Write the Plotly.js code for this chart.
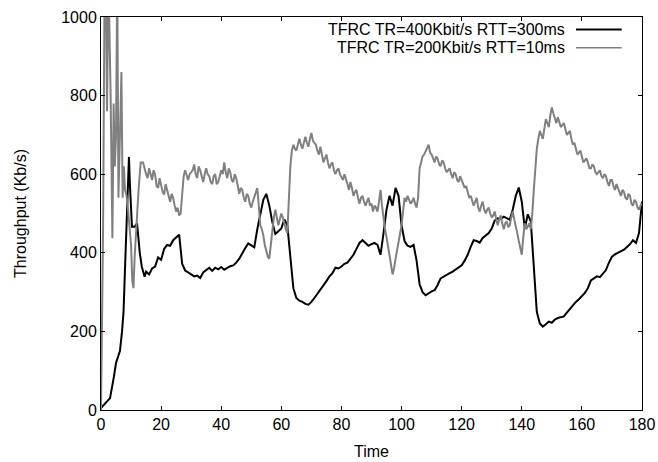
<!DOCTYPE html>
<html>
<head>
<meta charset="utf-8">
<script src="https://cdn.plot.ly/plotly-3.0.1.min.js"></script>
<style>html,body{margin:0;padding:0;background:#fff;}#chart{width:658px;height:462px;}</style>
</head>
<body>
<div id="chart"></div>
<script>
// Series names
const nameBlack = "TFRC TR=400Kbit/s RTT=300ms";
const nameGray = "TFRC TR=200Kbit/s RTT=10ms";

// Black series: start-up phase (irregular times)
const blackStartT = [0,1,2,3,3.7,4.3,5,5.7,6.3,7,7.5,7.9,8.4,8.9,9.3,9.6,9.9,10.3,11.2,12,12.9,13.6,14.5];
const blackStartV = [5,15,22,30,55,85,120,140,150,200,250,340,466,593,644,577,509,466,466,475,400,364,339];
// Black series: t = 15..180 (1 s steps)
const blackV = [352,345,360,365,388,382,410,420,418,432,438,446,372,355,350,346,340,342,336,350,
356,362,354,362,358,364,357,362,366,368,375,385,400,412,424,420,414,460,500,535,
550,520,478,448,455,462,485,470,390,310,285,278,275,270,268,275,285,295,305,318,
328,340,348,362,360,365,372,375,385,395,410,425,432,426,418,422,425,420,395,450,
510,545,520,565,545,470,430,418,415,420,380,320,300,292,298,302,305,318,335,340,
345,348,352,358,362,368,380,395,415,432,430,426,438,445,450,462,482,488,486,492,
488,484,510,545,566,530,462,498,480,350,250,220,212,218,225,222,230,234,236,238,
248,258,265,275,282,290,298,310,330,335,340,338,348,356,375,390,396,400,404,408,
415,422,432,425,450,530];

// Gray series: start-up phase (irregular times)
const grayStartT = [0,0.3,0.7,1.2,1.6,2.0,2.5,3.2,3.8,4.2,4.6,5.0,5.4,5.8,6.3,6.8,7.2,7.6,8.0,8.5,9.0,9.5,10.0,10.4,10.8,11.2,11.8,12.5,13.2,14.0];
const grayStartV = [0,200,470,1100,1100,760,1100,800,437,780,620,700,1100,540,700,860,540,620,560,545,510,470,420,330,310,390,480,560,630,630];
// Gray series: t = 15..180 (1 s steps)
const grayV = [600,615,585,600,565,575,548,560,530,540,505,495,560,610,585,605,625,590,610,580,
615,595,575,600,580,610,630,590,605,580,590,550,560,530,545,515,540,565,470,445,
400,385,460,510,470,500,470,450,620,675,660,690,665,695,670,705,680,660,670,630,
650,615,630,600,615,590,600,575,580,545,560,525,545,520,540,525,520,505,560,485,
440,400,345,385,420,470,540,545,525,540,515,615,645,660,675,650,630,640,620,630,
605,615,590,600,580,585,565,555,545,520,540,505,530,500,515,490,505,470,495,460,
480,470,505,470,430,395,475,470,460,560,665,710,690,740,720,770,740,745,720,730,
700,710,675,665,655,645,635,630,615,620,600,610,590,595,570,585,560,565,545,555,
535,545,520,530,510,525];
// Gray series: t = 15.5..179.5 (half-second readings between the above)
const grayHalfV = [590,595,610,570,590,555,575,540,550,520,
515,500,595,595,600,610,600,620,590,600,
600,580,595,575,595,600,605,615,585,600,
570,565,540,550,525,530,555,520,460,420,
390,420,490,485,485,490,460,540,660,665,
675,675,680,680,690,685,675,650,645,640,
630,625,610,610,600,585,590,560,565,555,
540,540,530,530,520,505,515,530,520,460,
420,370,360,405,445,505,530,535,530,525,
540,630,650,670,655,640,645,625,635,615,
610,600,605,585,595,570,570,540,535,530,
515,520,510,510,500,495,485,485,475,475,
465,490,485,450,410,440,460,475,500,620,
690,700,715,730,750,755,730,735,725,715,
705,690,680,650,660,630,640,615,625,605,
605,595,600,580,585,570,575,550,560,540,
550,525,535,515,520];

const mainStart = 15;

const tBlack = blackStartT.concat(blackV.map((v, i) => mainStart + i));
const yBlack = blackStartV.concat(blackV);

const tGray = grayStartT.slice();
const yGray = grayStartV.slice();
grayV.forEach((v, i) => {
  tGray.push(mainStart + i); yGray.push(v);
  if (i < grayHalfV.length) { tGray.push(mainStart + i + 0.5); yGray.push(grayHalfV[i]); }
});

const font = {family: "Liberation Sans, Arial, sans-serif", size: 16, color: "#000"};
const legFont = {family: "Liberation Sans, Arial, sans-serif", size: 16, color: "#000"};

const traces = [
  {x: tBlack, y: yBlack, type: "scatter", mode: "lines", name: nameBlack,
   line: {color: "#000000", width: 2}, showlegend: false},
  {x: tGray, y: yGray, type: "scatter", mode: "lines", name: nameGray,
   line: {color: "#808080", width: 2}, showlegend: false}
];

const layout = {
  width: 658, height: 462,
  margin: {l: 101, r: 16, t: 17, b: 52, pad: 0},
  paper_bgcolor: "#fff", plot_bgcolor: "#fff",
  font: font,
  showlegend: false,
  xaxis: {
    range: [0, 180], dtick: 20, tick0: 0,
    showline: true, linecolor: "#000", linewidth: 1, mirror: "ticks",
    ticks: "inside", ticklen: 4, tickcolor: "#000",
    showgrid: false, zeroline: false,
    tickfont: font,
    title: {text: "Time", font: font, standoff: 13}
  },
  yaxis: {
    range: [0, 1000], dtick: 200, tick0: 0,
    showline: true, linecolor: "#000", linewidth: 1, mirror: "ticks",
    ticks: "inside", ticklen: 4, tickcolor: "#000",
    showgrid: false, zeroline: false,
    tickfont: font,
    title: {text: "Throughput (Kb/s)", font: font, standoff: 30}
  },
  annotations: [
    {xref: "paper", yref: "paper", x: 0.859, y: 0.968, xanchor: "right", yanchor: "middle",
     text: nameBlack, showarrow: false, font: legFont, borderpad: 0},
    {xref: "paper", yref: "paper", x: 0.859, y: 0.922, xanchor: "right", yanchor: "middle",
     text: nameGray, showarrow: false, font: legFont, borderpad: 0}
  ],
  shapes: [
    {type: "line", xref: "paper", yref: "paper", x0: 0.878, x1: 0.9625, y0: 0.968, y1: 0.968,
     line: {color: "#000", width: 2}},
    {type: "line", xref: "paper", yref: "paper", x0: 0.878, x1: 0.9625, y0: 0.922, y1: 0.922,
     line: {color: "#808080", width: 1.5}}
  ]
};

Plotly.newPlot("chart", traces, layout, {displayModeBar: false, staticPlot: true});
</script>
</body>
</html>
